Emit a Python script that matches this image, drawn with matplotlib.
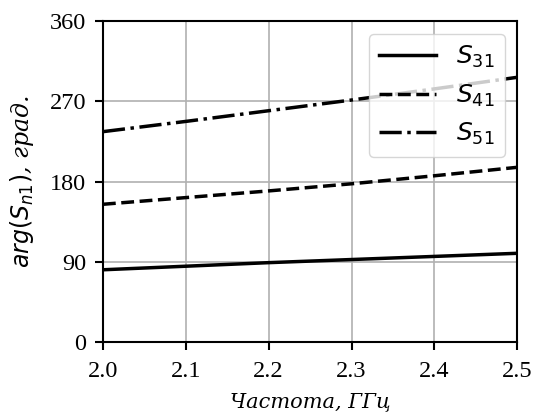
import numpy as np
import matplotlib.pyplot as plt

#--- data ---#
freq = [2.0, 2.1, 2.2, 2.3, 2.4, 2.5]
s31 = [81.0, 85.0, 89.0, 92.5, 96.0, 99.5]
s41 = [154.5, 162.0, 169.5, 177.5, 186.5, 196.0]
s51 = [236.0, 247.5, 259.5, 271.5, 284.0, 297.0]

x_ticks = [2.0, 2.1, 2.2, 2.3, 2.4, 2.5]
y_ticks = [0, 90, 180, 270, 360]

plt.rcParams['font.family'] = ['DejaVu Serif']

fig = plt.figure(figsize=(5.36, 4.15), dpi=100)
ax = fig.add_axes([0.192, 0.176, 0.773, 0.773])

ax.plot(freq, s31, 'k-', lw=2.5, label=r'$S_{31}$')
ax.plot(freq, s41, 'k--', lw=2.5, label=r'$S_{41}$')
ax.plot(freq, s51, 'k-.', lw=2.5, label=r'$S_{51}$')

ax.set_xlim(2.0, 2.5)
ax.set_ylim(0, 360)
ax.set_xticks(x_ticks)
ax.set_yticks(y_ticks)
ax.grid(True, color='#b0b0b0', lw=1.2)
for sp in ax.spines.values():
    sp.set_linewidth(1.5)
ax.tick_params(width=1.5, length=6, pad=6, labelsize=17.5,
               labelfontfamily='Liberation Serif')
ax.tick_params(axis='x', pad=8)

ax.set_xlabel('Частота, ГГц', style='italic', fontsize=15, labelpad=7)
ax.set_ylabel(r'$arg(S_{n1})$, град.', style='italic', fontsize=17, labelpad=10)

ax.legend(loc='upper right', fontsize=18, handlelength=2.3)

fig.savefig('out.png', dpi=100)
